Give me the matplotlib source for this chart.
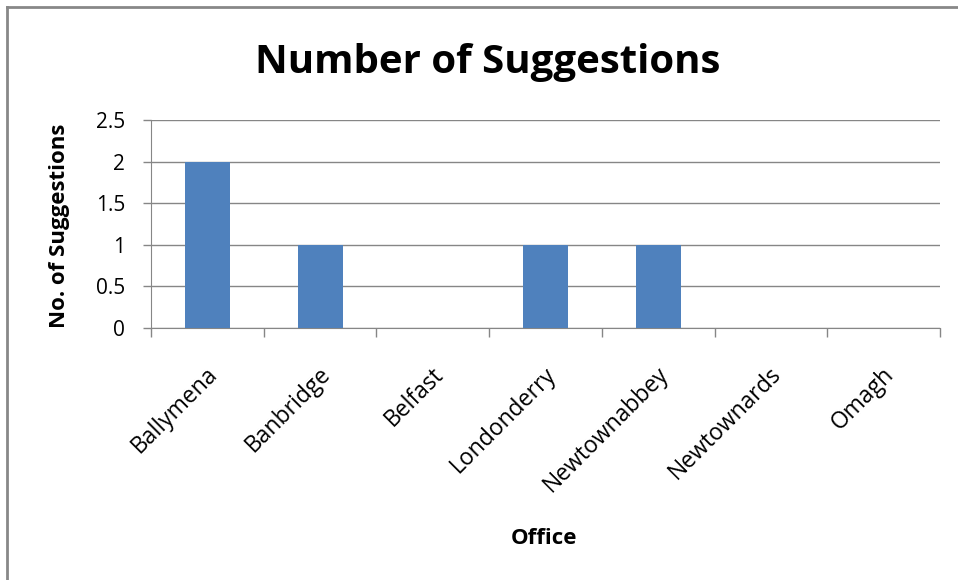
import matplotlib.pyplot as plt
import matplotlib.lines as mlines
import matplotlib.transforms as mtransforms
import numpy as np

offices = ['Ballymena', 'Banbridge', 'Belfast', 'Londonderry',
           'Newtownabbey', 'Newtownards', 'Omagh']
suggestions = [2, 1, 0, 1, 1, 0, 0]
yticks = [0, 0.5, 1, 1.5, 2, 2.5]
ytick_labels = ['0', '0.5', '1', '1.5', '2', '2.5']

plt.rcParams['font.family'] = ['Open Sans', 'DejaVu Sans']

W, H = 958, 580
fig = plt.figure(figsize=(W / 100, H / 100), dpi=100)
ax = fig.add_axes([151 / W, 1 - 328 / H, (940 - 151) / W, (328 - 120) / H])

grid_col = '#868686'
x = np.arange(len(offices))
ax.bar(x, suggestions, width=0.4, color='#4f81bd', zorder=3)

ax.set_xlim(-0.5, len(offices) - 0.5)
ax.set_ylim(0, 2.5)
ax.set_yticks(yticks)
ax.set_yticklabels(ytick_labels, fontsize=15)
ax.yaxis.grid(True, color=grid_col, linewidth=1, zorder=0)

ax.set_xticks(x)
ax.set_xticklabels(offices, rotation=45, ha='right', va='center',
                   rotation_mode='anchor', fontsize=16.5)
ax.set_xticks(np.arange(-0.5, len(offices)), minor=True)
ax.tick_params(axis='x', which='major', length=0, pad=31)
ax.tick_params(axis='x', which='minor', length=6.5, color=grid_col, width=1)
ax.tick_params(axis='y', length=5.5, color=grid_col, width=1, pad=13)

# nudge the slanted labels a little to the right, like the original
offset = mtransforms.ScaledTranslation(7 / 100, 0, fig.dpi_scale_trans)
for lab in ax.get_xticklabels():
    lab.set_transform(lab.get_transform() + offset)

for side in ['top', 'right']:
    ax.spines[side].set_visible(False)
ax.spines['left'].set_color(grid_col)
ax.spines['bottom'].set_color(grid_col)

fig.text(544 / W, 1 - 538 / H, 'Office', fontsize=16, fontweight='bold',
         ha='center', va='center')
fig.text(60 / W, 1 - 226 / H, 'No. of Suggestions', fontsize=16,
         fontweight='bold', ha='center', va='center', rotation=90)
fig.text(488 / W, 1 - 73 / H, 'Number of Suggestions', fontsize=29,
         fontweight='bold', ha='center', va='baseline')

# outer chart frame (only top and left edges fall inside the picture)
fig.add_artist(mlines.Line2D([7 / W, 1], [1 - 7 / H, 1 - 7 / H],
                             transform=fig.transFigure, color='#888888', linewidth=2))
fig.add_artist(mlines.Line2D([7 / W, 7 / W], [0, 1 - 7 / H],
                             transform=fig.transFigure, color='#888888', linewidth=2))

fig.savefig('out.png', dpi=100)
